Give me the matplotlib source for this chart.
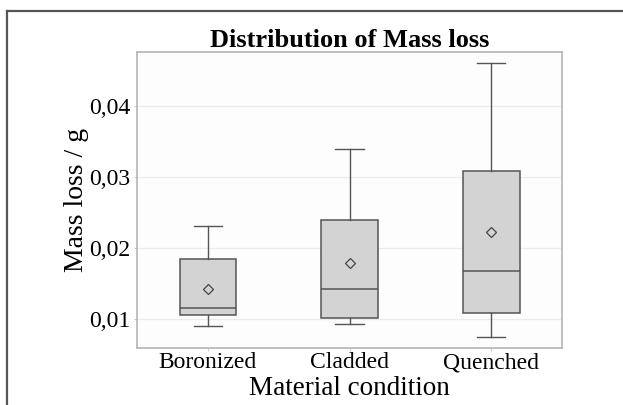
import matplotlib.pyplot as plt
from matplotlib.lines import Line2D

# box statistics
conditions = ['Boronized', 'Cladded', 'Quenched']
whisker_low = [0.0090, 0.0093, 0.0074]
q1 = [0.0105, 0.0101, 0.0109]
median = [0.0116, 0.0142, 0.0167]
q3 = [0.0184, 0.0240, 0.0309]
whisker_high = [0.0231, 0.0340, 0.0461]
mean = [0.0142, 0.0179, 0.0222]

yticks = [0.01, 0.02, 0.03, 0.04]
ytick_labels = ['0,01', '0,02', '0,03', '0,04']

plt.rcParams['font.family'] = ['Liberation Serif', 'DejaVu Serif']

fig = plt.figure(figsize=(6.23, 4.05), dpi=100)
ax = fig.add_axes([137 / 623, 1 - 348 / 405, 425 / 623, 296 / 405])

stats = []
for i, name in enumerate(conditions):
    stats.append({
        'label': name,
        'whislo': whisker_low[i],
        'q1': q1[i],
        'med': median[i],
        'q3': q3[i],
        'whishi': whisker_high[i],
        'mean': mean[i],
        'fliers': [],
    })

edge = '#555555'
ax.bxp(stats, positions=[1, 2, 3], widths=0.4, patch_artist=True,
       showmeans=True, showcaps=True,
       boxprops=dict(facecolor='#d3d3d3', edgecolor=edge, linewidth=1.1),
       medianprops=dict(color=edge, linewidth=1.1),
       whiskerprops=dict(color=edge, linewidth=1.0),
       capprops=dict(color=edge, linewidth=1.0),
       meanprops=dict(marker='D', markersize=5, markerfacecolor='none',
                      markeredgecolor='#444444', markeredgewidth=0.9))

ax.set_xlim(0.5, 3.5)
ax.set_ylim(0.0059, 0.0476)
ax.set_yticks(yticks)
ax.set_yticklabels(ytick_labels)
ax.yaxis.grid(True, color='#ececec', linewidth=0.9)
ax.set_axisbelow(True)
ax.set_facecolor('#fdfdfd')
for s in ax.spines.values():
    s.set_color('#b5b5b5')
    s.set_linewidth(1.2)
ax.tick_params(axis='both', length=2, color='#cccccc', labelsize=17, pad=3)
ax.tick_params(axis='x', labelsize=17, pad=1)

ax.set_title('Distribution of Mass loss', fontsize=19, fontweight='bold', pad=3)
ax.set_xlabel('Material condition', fontsize=19.5, labelpad=2)
ax.set_ylabel('Mass loss / g', fontsize=20, labelpad=0)

# outer frame of the original figure
fig.add_artist(Line2D([7 / 623, 1], [1 - 11 / 405, 1 - 11 / 405],
                      transform=fig.transFigure, color='#555555', linewidth=1.6))
fig.add_artist(Line2D([7 / 623, 7 / 623], [0, 1 - 11 / 405],
                      transform=fig.transFigure, color='#555555', linewidth=1.6))

fig.savefig('out.png', dpi=100)
